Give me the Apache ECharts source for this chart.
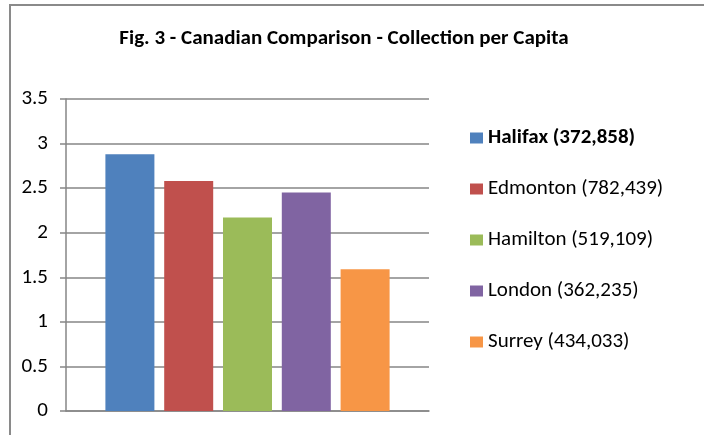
<!DOCTYPE html>
<html>
<head>
<meta charset="utf-8">
<script src="https://cdn.jsdelivr.net/npm/echarts@6/dist/echarts.min.js"></script>
<style>
  html, body { margin: 0; padding: 0; background: #fff; }
  #chart { width: 704px; height: 435px; }
</style>
</head>
<body>
<div id="chart"></div>
<script>
// Collection per capita for five Canadian library systems (population in brackets)
const cities = ['Halifax (372,858)', 'Edmonton (782,439)', 'Hamilton (519,109)', 'London (362,235)', 'Surrey (434,033)'];
const perCapita = [2.88, 2.58, 2.17, 2.45, 1.59];
const colors = ['#4F81BD', '#C0504D', '#9BBB59', '#8064A2', '#F79646'];
const yTicks = { min: 0, max: 3.5, step: 0.5 };

const FONT = 'Carlito, Lato, sans-serif';
const chart = echarts.init(document.getElementById('chart'));

const series = cities.map((name, i) => ({
  name: name,
  type: 'bar',
  data: [perCapita[i]],
  barWidth: 49,
  barGap: '20%',
  itemStyle: { color: colors[i] }
}));

chart.setOption({
  animation: false,
  backgroundColor: '#fff',
  title: {
    text: 'Fig. 3 - Canadian Comparison - Collection per Capita',
    left: 339,
    textAlign: 'center',
    top: 23,
    textStyle: { fontFamily: FONT, fontSize: 21, fontWeight: 'bold', color: '#000' }
  },
  graphic: [{
    type: 'rect',
    shape: { x: 10, y: 5, width: 760, height: 500 },
    style: { fill: 'none', stroke: '#8a8a8a', lineWidth: 2 },
    silent: true
  }],
  legend: {
    orient: 'vertical',
    left: 465,
    top: 122,
    itemWidth: 13,
    itemHeight: 11,
    itemGap: 29,
    icon: 'rect',
    data: cities,
    formatter: name => name === cities[0] ? '{b|' + name + '}' : name,
    textStyle: {
      fontFamily: FONT, fontSize: 21, lineHeight: 22, color: '#000',
      rich: { b: { fontFamily: FONT, fontSize: 21, lineHeight: 22, fontWeight: 'bold', color: '#000' } }
    }
  },
  grid: { left: 66, top: 99, right: 275, bottom: 24, containLabel: false },
  xAxis: {
    type: 'category',
    data: [''],
    axisLine: { show: true, lineStyle: { color: '#868686', width: 1.5 } },
    axisTick: { show: false },
    axisLabel: { show: false }
  },
  yAxis: {
    type: 'value',
    min: yTicks.min,
    max: yTicks.max,
    interval: yTicks.step,
    axisLine: { show: true, lineStyle: { color: '#868686', width: 1.5 } },
    axisTick: { show: true, length: 6, lineStyle: { color: '#868686', width: 1.5 } },
    axisLabel: { fontFamily: FONT, fontSize: 21, color: '#000', margin: 18, formatter: v => String(v) },
    splitLine: { show: true, lineStyle: { color: '#868686', width: 1.5 } }
  },
  series: series
});
</script>
</body>
</html>
